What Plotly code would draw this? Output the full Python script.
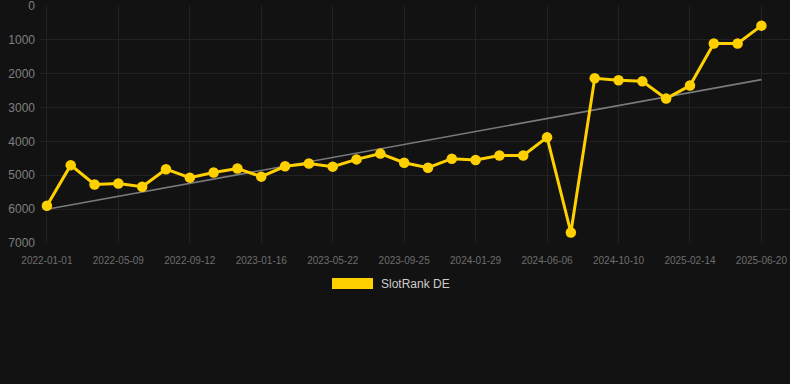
import plotly.graph_objects as go

dates = [
    "2022-01-01", "2022-02-12", "2022-03-26", "2022-05-09", "2022-06-20", "2022-08-01",
    "2022-09-12", "2022-10-24", "2022-12-05", "2023-01-16", "2023-02-27", "2023-04-10",
    "2023-05-22", "2023-07-03", "2023-08-14", "2023-09-25", "2023-11-06", "2023-12-18",
    "2024-01-29", "2024-03-11", "2024-04-23", "2024-06-06", "2024-07-18", "2024-08-29",
    "2024-10-10", "2024-11-21", "2025-01-02", "2025-02-14", "2025-03-28", "2025-05-09",
    "2025-06-20",
]
rank = [
    5900, 4700, 5270, 5240, 5340, 4820, 5070, 4920, 4800, 5040, 4735, 4650,
    4745, 4530, 4360, 4630, 4775, 4510, 4550, 4415, 4415, 3880, 6690, 2135,
    2195, 2225, 2735, 2350, 1105, 1105, 580,
]
tick_labels = [
    "2022-01-01", "2022-05-09", "2022-09-12", "2023-01-16", "2023-05-22", "2023-09-25",
    "2024-01-29", "2024-06-06", "2024-10-10", "2025-02-14", "2025-06-20",
]
trend_values = [6005, 2175]
y_ticks = [0, 1000, 2000, 3000, 4000, 5000, 6000, 7000]
series_name = "SlotRank DE"

GOLD = "#FFD000"
BG = "#121212"
GRID = "#222222"
FONT = "Liberation Sans, Arial, Helvetica, sans-serif"

W, H = 790, 384
L, R, T, B = 40, 0, 6, 141
PW, PH = W - L - R, H - T - B


def px_x(x):
    return (x - L) / PW


def px_y(y):
    return (H - B - y) / PH


fig = go.Figure()
fig.add_trace(go.Scatter(
    x=[dates[0], dates[-1]], y=trend_values, mode="lines",
    line=dict(color="#7a7a7a", width=1.6), hoverinfo="skip", showlegend=False,
))
fig.add_trace(go.Scatter(
    x=dates, y=rank, mode="lines+markers", name=series_name,
    line=dict(color=GOLD, width=3), marker=dict(color=GOLD, size=10.5),
    showlegend=False,
))

fig.update_layout(
    width=W, height=H,
    margin=dict(l=L, r=R, t=T, b=B),
    paper_bgcolor=BG, plot_bgcolor=BG,
    font=dict(family=FONT, color="#7f7f7f"),
    xaxis=dict(
        type="category", categoryorder="array", categoryarray=dates,
        range=[-0.29, 31.2],
        tickmode="array", tickvals=tick_labels, ticktext=tick_labels,
        tickfont=dict(family=FONT, size=10, color="#6e6e6e"),
        showgrid=True, gridcolor=GRID, gridwidth=1,
        zeroline=False, showline=False,
        ticks="outside", ticklen=8, tickcolor=BG,
    ),
    yaxis=dict(
        range=[7000, -0.5], tickmode="array", tickvals=y_ticks,
        ticktext=[str(v) for v in y_ticks],
        tickfont=dict(family=FONT, size=12, color="#7f7f7f"),
        showgrid=True, gridcolor=GRID, gridwidth=1,
        zeroline=False, showline=False, ticks="", ticklabelstandoff=4,
        ticklabeloverflow="allow",
    ),
    showlegend=False,
    shapes=[dict(
        type="rect", xref="paper", yref="paper",
        x0=px_x(332), x1=px_x(373), y0=px_y(289), y1=px_y(278),
        fillcolor=GOLD, line=dict(width=0),
    )],
    annotations=[dict(
        xref="paper", yref="paper", x=px_x(379), y=px_y(284),
        xanchor="left", yanchor="middle", showarrow=False,
        text=series_name, font=dict(family=FONT, size=12, color="#cccccc"),
    )],
)

fig.write_html(
    "out.html",
    config={"displayModeBar": False},
    post_script="document.body.style.margin='0';",
)
